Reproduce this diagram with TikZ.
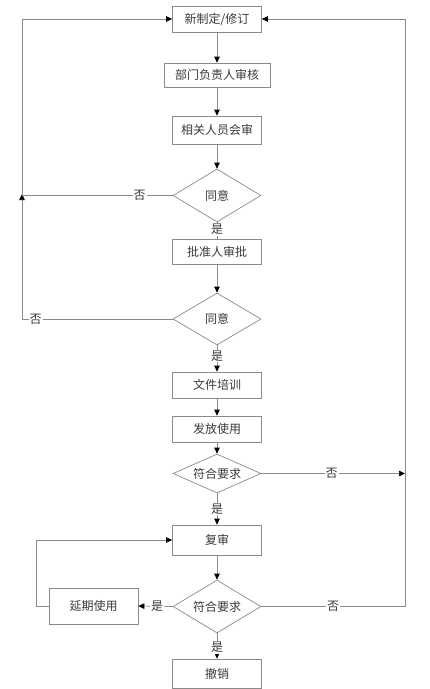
\documentclass[tikz,border=0pt]{standalone}
\usepackage{fontspec}
\newfontfamily\cjk{Noto Sans CJK SC}
\usetikzlibrary{shapes.geometric,arrows.meta}
\definecolor{linegray}{HTML}{8A8A8A}
\definecolor{textgray}{HTML}{3A3A3A}
\begin{document}
\begin{tikzpicture}[x=1pt,y=-1pt,
  txt/.style={font=\cjk\fontsize{12}{13}\selectfont, text=textgray},
  box/.style={txt, draw=linegray, line width=0.7pt, minimum width=89pt, inner sep=0pt},
  dia/.style={txt, diamond, aspect=2, draw=linegray, line width=0.7pt, minimum width=88pt, inner sep=0pt},
  lbl/.style={txt, fill=white, inner sep=1pt},
  conn/.style={draw=linegray, line width=0.7pt},
  arr/.style={conn, -{Triangle[length=6pt,width=5.5pt,fill=black,color=black]}}
]
\useasboundingbox (0,0) rectangle (430,689);
\fill[white] (0,0) rectangle (430,689);

\node[box, minimum height=26pt] (b1) at (217,19) {新制定/修订};
\node[box, minimum width=106pt, minimum height=24pt] (b2) at (217,75) {部门负责人审核};
\node[box, minimum height=28pt] (b3) at (217,130) {相关人员会审};
\node[dia, minimum height=53pt] (d1) at (217,195.5) {同意};
\node[box, minimum height=25pt] (b4) at (217,251.5) {批准人审批};
\node[dia, minimum height=52pt] (d2) at (217,319) {同意};
\node[box, minimum height=26pt] (b5) at (217,385) {文件培训};
\node[box, minimum height=26pt] (b6) at (217,429) {发放使用};
\node[dia, minimum height=39pt] (d3) at (217,473.5) {符合要求};
\node[box, minimum height=30pt] (b7) at (217,540) {复审};
\node[dia, minimum height=53pt] (d4) at (217,606.5) {符合要求};
\node[box, minimum height=36pt] (b8) at (93.5,606) {延期使用};
\node[box, minimum height=29pt] (b9) at (217,673.5) {撤销};

\coordinate (lt) at (22,19);
\coordinate (lj) at (22,195.5);
\coordinate (lb) at (22,319);
\coordinate (rt) at (405,19);
\coordinate (rm) at (405,473.5);
\coordinate (rb) at (405,606.5);
\coordinate (ct) at (36,540);
\coordinate (cb) at (36,606);

\draw[arr] (b1) -- (b2);
\draw[arr] (b2) -- (b3);
\draw[arr] (b3) -- (d1);
\draw[conn] (d1) -- node[lbl, pos=0.45] {是} (b4);
\draw[arr] (b4) -- (d2);
\draw[arr] (d2) -- node[lbl, pos=0.4] {是} (b5);
\draw[arr] (b5) -- (b6);
\draw[arr] (b6) -- (d3);
\draw[arr] (d3) -- node[lbl, pos=0.5] {是} (b7);
\draw[arr] (b7) -- (d4);
\draw[arr] (d4) -- node[lbl, pos=0.55] {是} (b9);
\draw[arr] (d4.west) -- node[lbl, pos=0.45] {是} (b8.east);
\draw[arr] (b8.west) -- (cb) -- (ct) -- (b7.west);
\draw[arr] (d3.east) -- node[lbl, pos=0.49] {否} (rm);
\draw[conn] (d4.east) -- node[lbl, pos=0.5] {否} (rb) -- (rm);
\draw[arr] (rm) -- (rt) -- (b1.east);
\draw[conn] (d1.west) -- node[lbl, pos=0.22] {否} (lj);
\draw[arr] (d2.west) -- node[lbl, pos=0.91] {否} (lb) -- ([yshift=1.5pt]lj);
\draw[arr] (lj) -- (lt) -- (b1.west);
\end{tikzpicture}
\end{document}
